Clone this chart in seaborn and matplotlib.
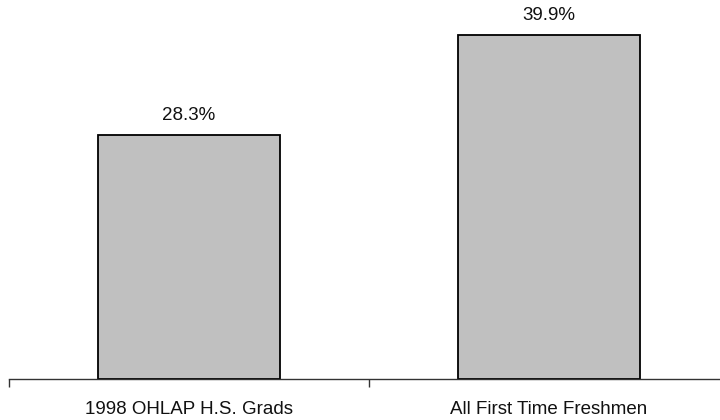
import matplotlib
matplotlib.use("Agg")
import matplotlib.pyplot as plt
import seaborn as sns
import pandas as pd

categories = ["1998 OHLAP H.S. Grads", "All First Time Freshmen"]
values = [28.3, 39.9]
value_labels = ["28.3%", "39.9%"]

sns.set_theme(style="white")
plt.rcParams["font.family"] = ["Liberation Sans", "DejaVu Sans"]

df = pd.DataFrame({"group": categories, "pct": values})

fig = plt.figure(figsize=(7.2, 4.2), dpi=100)
ax = fig.add_axes([9 / 720, 41.3 / 420, 1.0, 378.7 / 420])

sns.barplot(data=df, x="group", y="pct", color="#c0c0c0", edgecolor="black",
            linewidth=1.3, width=0.505, saturation=1, ax=ax)

ax.set_xlim(-0.5, 1.5)
ax.set_ylim(0, 44)

for container in ax.containers:
    ax.bar_label(container, labels=value_labels, padding=8, fontsize=13.5,
                 color="#111111")

# category boundaries carry the tick marks; names sit between them
ax.set_xticks([-0.5, 0.5, 1.5])
ax.set_xticklabels(["", "", ""])
ax.set_xticks([0, 1], minor=True)
ax.set_xticklabels(categories, minor=True, fontsize=13.5, color="#111111")
ax.tick_params(axis="x", which="major", direction="out", length=6, width=1,
               color="#333333", bottom=True)
ax.tick_params(axis="x", which="minor", length=0, pad=16)
ax.set_yticks([])
ax.set_xlabel("")
ax.set_ylabel("")

for side in ["top", "right", "left"]:
    ax.spines[side].set_visible(False)
ax.spines["bottom"].set_color("#333333")
ax.spines["bottom"].set_linewidth(1)

fig.savefig("out.png", dpi=100, facecolor="white")
